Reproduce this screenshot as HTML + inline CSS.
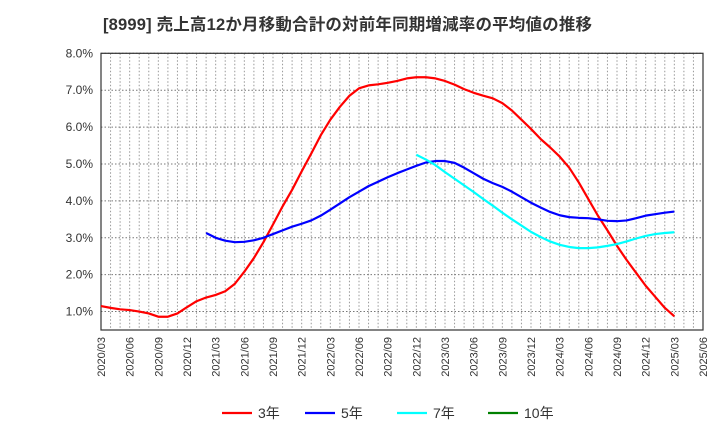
<!DOCTYPE html>
<html><head><meta charset="utf-8"><style>
body{margin:0;background:#fff;font-family:"Liberation Sans","Noto Sans CJK JP",sans-serif}
</style></head><body>
<svg id="c" width="720" height="440" xmlns="http://www.w3.org/2000/svg">
<text x="103" y="30" font-size="16.5" font-weight="bold" fill="#333" textLength="489" lengthAdjust="spacing" font-family="Liberation Sans, Noto Sans CJK JP, sans-serif">[8999]  売上高12か月移動合計の対前年同期増減率の平均値の推移</text>
<g id="grid"></g><g id="axes"></g><g id="series"></g><g id="legend"></g>
</svg>
<script>
const startYear=2020, startMonth=3;
const yTicks=[1,2,3,4,5,6,7,8];
const xTickLabels=["2020/03","2020/06","2020/09","2020/12","2021/03","2021/06","2021/09","2021/12","2022/03","2022/06","2022/09","2022/12","2023/03","2023/06","2023/09","2023/12","2024/03","2024/06","2024/09","2024/12","2025/03","2025/06"];
const red3=[1.15,1.10,1.06,1.04,1.00,0.95,0.86,0.86,0.95,1.12,1.28,1.38,1.45,1.55,1.75,2.08,2.45,2.88,3.36,3.85,4.3,4.8,5.28,5.78,6.2,6.55,6.85,7.05,7.13,7.16,7.2,7.25,7.32,7.35,7.35,7.32,7.25,7.15,7.03,6.93,6.85,6.78,6.65,6.45,6.2,5.95,5.68,5.45,5.2,4.9,4.5,4.05,3.6,3.2,2.78,2.4,2.05,1.7,1.4,1.1,0.87];
const red3Start=0;
const blue5=[3.13,3.0,2.92,2.88,2.89,2.93,3.0,3.1,3.2,3.3,3.38,3.47,3.6,3.76,3.93,4.1,4.25,4.4,4.52,4.64,4.75,4.85,4.95,5.04,5.08,5.08,5.03,4.9,4.75,4.6,4.48,4.38,4.25,4.1,3.95,3.82,3.7,3.61,3.56,3.54,3.53,3.5,3.46,3.45,3.47,3.53,3.6,3.64,3.68,3.71];
const blue5Start=11;
const cyan7=[5.25,5.12,4.97,4.78,4.6,4.42,4.24,4.05,3.87,3.68,3.5,3.33,3.16,3.02,2.9,2.81,2.75,2.72,2.72,2.74,2.78,2.83,2.9,2.98,3.05,3.1,3.13,3.15];
const cyan7Start=33;
const green10=[];
const green10Start=0;

const NS="http://www.w3.org/2000/svg";
const L=101,R=703,T=53.3,B=330,yMin=0.5,yMax=8,nMonths=63;
const xS=i=>L+(R-L)*i/nMonths;
const yS=v=>B-(B-T)*(v-yMin)/(yMax-yMin);
function mk(tag,attrs,parent){const e=document.createElementNS(NS,tag);for(const k in attrs)e.setAttribute(k,attrs[k]);parent.appendChild(e);return e;}
const grid=document.getElementById('grid'),axes=document.getElementById('axes'),ser=document.getElementById('series'),leg=document.getElementById('legend');
for(let i=1;i<nMonths;i++){const l=mk('line',{x1:xS(i),x2:xS(i),y1:T,y2:B,stroke:'#999','stroke-width':1,'stroke-dasharray':'1.5,2'},grid);

}
yTicks.forEach(v=>{const y=yS(v);
const l=mk('line',{x1:L,x2:R,y1:y,y2:y,stroke:'#777','stroke-width':1,'stroke-dasharray':'1.5,2'},grid);


const t=mk('text',{x:93,y:y+4,'text-anchor':'end','font-size':12,fill:'#333'},axes);t.textContent=v.toFixed(1)+'%';

});
const fr=mk('rect',{x:L,y:T,width:R-L,height:B-T,fill:'none',stroke:'#333','stroke-width':1.2},axes);


xTickLabels.forEach((s,k)=>{const x=xS(k*3);
const t=mk('text',{x:0,y:0,transform:`translate(${x+4},337) rotate(-90)`,'text-anchor':'end','font-size':11,fill:'#333'},axes);t.textContent=s;

});
function series(arr,start,color,name){if(!arr.length)return;
const d=arr.map((v,i)=>(i?'L':'M')+xS(start+i).toFixed(2)+','+yS(v).toFixed(2)).join(' ');
const p=mk('path',{d:d,fill:'none',stroke:color,'stroke-width':2.2,'stroke-linejoin':'round'},ser);

}
series(red3,red3Start,'#ff0000','line-3yr');
series(blue5,blue5Start,'#0000ff','line-5yr');
series(cyan7,cyan7Start,'#00ffff','line-7yr');
series(green10,green10Start,'#008000','line-10yr');
const legItems=[['3年','#ff0000',222],['5年','#0000ff',305],['7年','#00ffff',397],['10年','#008000',488]];
legItems.forEach(([lab,c,x])=>{const g=mk('g',{},leg);


mk('line',{x1:x,x2:x+30,y1:413,y2:413,stroke:c,'stroke-width':2.2},g);
const t=mk('text',{x:x+36,y:418,'font-size':14,fill:'#333'},g);t.textContent=lab;});
</script>
</body></html>
